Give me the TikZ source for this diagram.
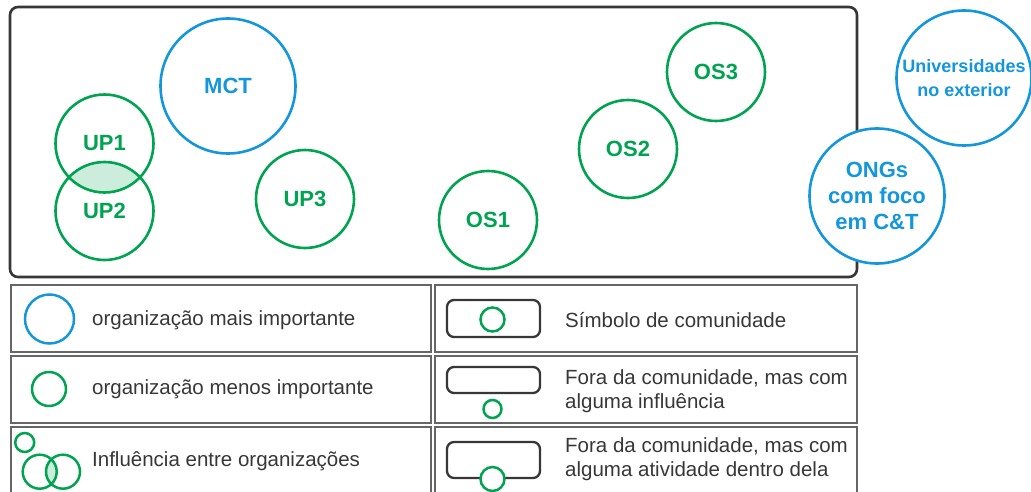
\documentclass[tikz,border=0pt]{standalone}
\usepackage{fontspec}
\setmainfont{Liberation Sans}
\usepackage{xcolor}
\usepackage{tikz}
\usetikzlibrary{positioning}
\definecolor{orggreen}{RGB}{0,163,80}
\definecolor{orgblue}{RGB}{20,150,220}
\definecolor{darkline}{RGB}{55,55,55}
\tikzset{
    orgnode/.style = {align=center, inner sep=0pt, text centered, circle, line width=2.6pt, font=\bfseries\fontsize{22}{26}\selectfont},
    blue_node/.style = {orgnode, draw=orgblue, text=orgblue, minimum size=135pt},
    green_node/.style = {orgnode, draw=orggreen, text=orggreen, minimum size=98pt},
    key_blue/.style = {circle, draw=orgblue, line width=2.5pt, inner sep=0pt, minimum size=49pt},
    key_green/.style = {circle, draw=orggreen, line width=2.5pt, inner sep=0pt},
    cell/.style = {draw=black!60, line width=1.2pt},
    comm/.style = {draw=darkline, line width=2.3pt, rounded corners=7pt},
    keytext/.style = {anchor=west, align=left, inner sep=0pt, text=darkline, font=\fontsize{20.5}{23.5}\selectfont}
}
\begin{document}
\begin{tikzpicture}[x=1pt, y=-1pt]
    \useasboundingbox (0,0) rectangle (1031,492);

    % community
    \draw [darkline, line width=2.6pt, rounded corners=8pt] (10,7) rectangle (857,277);

    \coordinate (c_up1) at (104.5,143.5);
    \coordinate (c_up2) at (104.5,211);
    \begin{scope}
        \clip (c_up1) circle (49pt);
        \fill [orggreen!20] (c_up2) circle (49pt);
    \end{scope}

    \node [blue_node] (MCT) at (228,86) {MCT};
    \node [green_node] (UP1) at (c_up1) {UP1};
    \node [green_node] (UP2) at (c_up2) {UP2};
    \node [green_node] (UP3) at (305,199) {UP3};
    \node [green_node] (OS1) at (488,220) {OS1};
    \node [green_node] (OS2) at (628,149) {OS2};
    \node [green_node] (OS3) at (716,72) {OS3};

    % outside
    \node [blue_node, fill=white, font=\bfseries\fontsize{18}{24}\selectfont] (UNI) at (964,78) {Universidades\\no exterior};
    \node [blue_node, fill=white] (ONG) at (877,196) {ONGs\\com foco\\em C\&T};

    % legend
    \draw [cell] (11,285) rectangle (431,352);
    \draw [cell] (11,356) rectangle (431,423);
    \draw [cell] (11,427) rectangle (431,500);
    \draw [cell] (435,285) rectangle (857,352);
    \draw [cell] (435,356) rectangle (857,423);
    \draw [cell] (435,427) rectangle (857,500);

    \node [key_blue] (key1) at (49.5,319) {};
    \node [keytext] (txt1) at (92,320) {organização mais importante};

    \node [key_green, minimum size=34pt] (key2) at (49,389) {};
    \node [keytext] (txt2) at (92,389) {organização menos importante};

    \begin{scope}
        \clip (39.7,471.7) circle (17pt);
        \fill [orggreen!20] (63,471.7) circle (17pt);
    \end{scope}
    \node [key_green, minimum size=19pt] (key3a) at (24.7,442.5) {};
    \node [key_green, minimum size=34pt] (key3b) at (39.7,471.7) {};
    \node [key_green, minimum size=34pt] (key3c) at (63,471.7) {};
    \node [keytext] (txt3) at (92,461) {Influência entre organizações};

    \draw [comm] (447,300) rectangle (540,337);
    \node [key_green, minimum size=24pt] (key4) at (492.5,319.5) {};
    \node [keytext] (txt4) at (565,320) {Símbolo de comunidade};

    \draw [comm] (447,367) rectangle (540,393);
    \node [key_green, minimum size=18pt] (key5) at (492.5,409) {};
    \node [keytext] (txt5) at (565,391) {Fora da comunidade, mas com\\alguma influência};

    \draw [comm] (447,442) rectangle (540,478);
    \node [key_green, minimum size=24pt, fill=white] (key6) at (492.5,479) {};
    \node [keytext] (txt6) at (565,459) {Fora da comunidade, mas com\\alguma atividade dentro dela};
\end{tikzpicture}
\end{document}
